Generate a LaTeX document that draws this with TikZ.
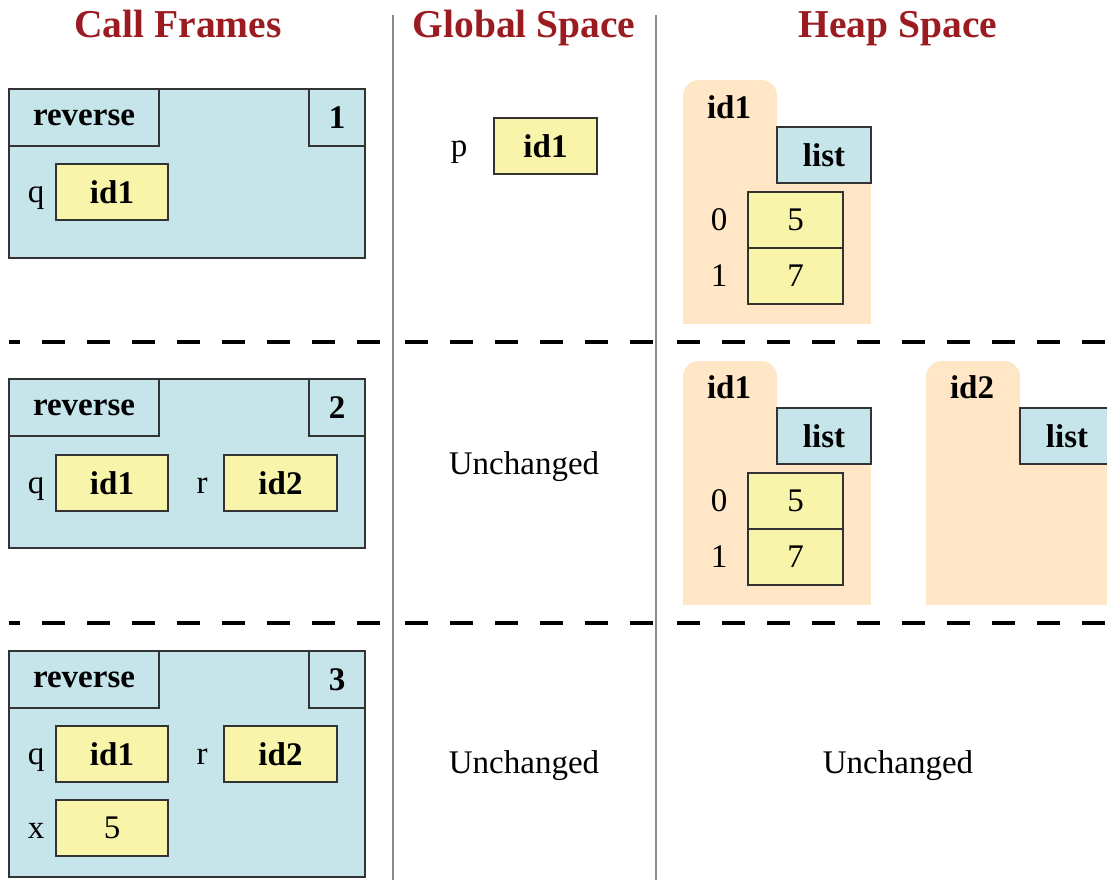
\documentclass[tikz,border=0pt]{standalone}
\usepackage{fontspec}
\setmainfont{Liberation Serif}
\definecolor{titlered}{HTML}{9B1C20}
\definecolor{frameblue}{HTML}{C5E5EA}
\definecolor{yel}{HTML}{F8F4AA}
\definecolor{peach}{HTML}{FEE6C6}
\definecolor{stroke}{HTML}{333333}
\definecolor{sepgray}{HTML}{8A8A8A}
\begin{document}
\begin{tikzpicture}[x=1pt,y=-1pt,
  every node/.style={font=\fontsize{33}{38}\selectfont, outer sep=0pt},
  frm/.style={draw=stroke, fill=frameblue, line width=1.8pt, inner sep=0pt, anchor=north west, minimum width=356},
  tabbox/.style={draw=stroke, fill=frameblue, line width=1.8pt, inner sep=0pt, minimum height=57, font=\fontsize{33}{38}\selectfont\bfseries},
  ybox/.style={draw=stroke, fill=yel, line width=1.8pt, inner sep=0pt, minimum width=112, minimum height=56},
  lbl/.style={inner sep=0pt, anchor=base},
  hname/.style={inner sep=0pt, anchor=base, font=\fontsize{33}{38}\selectfont\bfseries},
  ttl/.style={inner sep=0pt, anchor=base, font=\fontsize{39.5}{46}\selectfont\bfseries, text=titlered},
  sepline/.style={draw=sepgray, line width=2pt},
  dsh/.style={line width=3.5pt, dash pattern=on 23pt off 22pt},
  folder/.style={fill=peach},
]
\useasboundingbox (0,0) rectangle (1107,880);
\clip (0,0) rectangle (1107,880);

% titles
\node[ttl] (t1) at (178,38) {Call Frames};
\node[ttl] (t2) at (524,38) {Global Space};
\node[ttl] (t3) at (898,38) {Heap Space};

% separators
\coordinate (v1t) at (393,15); \coordinate (v1b) at (393,880);
\coordinate (v2t) at (656,15); \coordinate (v2b) at (656,880);
\draw[sepline] (v1t) -- (v1b);
\draw[sepline] (v2t) -- (v2b);

\foreach \yy/\nm in {342/a,623/b}{
  \coordinate (d\nm1) at (9,\yy); \coordinate (d\nm2) at (393,\yy);
  \coordinate (d\nm3) at (405,\yy); \coordinate (d\nm4) at (656,\yy);
  \coordinate (d\nm5) at (677,\yy); \coordinate (d\nm6) at (1107,\yy);
  \draw[dsh, dash phase=12pt] (d\nm1) -- (d\nm2);
  \draw[dsh] (d\nm3) -- (d\nm4);
  \draw[dsh] (d\nm5) -- (d\nm6);
}

% ---- Frame 1
\node[frm, minimum height=169] (f1) at (9,89) {};
\node[tabbox, minimum width=150, anchor=north west] (f1n) at (9,89) {reverse};
\node[tabbox, minimum width=56, anchor=north east] (f1c) at (365,89) {1};
\node[lbl] (f1ql) at (36,202) {q};
\node[ybox] (f1q) at (112,192) {\bfseries id1};

% ---- Frame 2
\node[frm, minimum height=169] (f2) at (9,379) {};
\node[tabbox, minimum width=150, anchor=north west] (f2n) at (9,379) {reverse};
\node[tabbox, minimum width=56, anchor=north east] (f2c) at (365,379) {2};
\node[lbl] (f2ql) at (36,493) {q};
\node[ybox] (f2q) at (112,483) {\bfseries id1};
\node[lbl] (f2rl) at (202,493) {r};
\node[ybox, minimum width=113] (f2r) at (280.5,483) {\bfseries id2};

% ---- Frame 3
\node[frm, minimum height=226] (f3) at (9,651) {};
\node[tabbox, minimum width=150, anchor=north west] (f3n) at (9,651) {reverse};
\node[tabbox, minimum width=56, anchor=north east] (f3c) at (365,651) {3};
\node[lbl] (f3ql) at (36,764) {q};
\node[ybox] (f3q) at (112,754) {\bfseries id1};
\node[lbl] (f3rl) at (202,764) {r};
\node[ybox, minimum width=113] (f3r) at (280.5,754) {\bfseries id2};
\node[lbl] (f3xl) at (36,838) {x};
\node[ybox] (f3x) at (112,828) {5};

% ---- Global space
\node[lbl] (gpl) at (459,156) {p};
\node[ybox, minimum width=103] (gp) at (545.5,146) {\bfseries id1};
\node[lbl] (gu2) at (524,474) {Unchanged};
\node[lbl] (gu3) at (524,773) {Unchanged};

% ---- Heap row 1
\fill[folder, rounded corners=16pt] (683,140) -- (683,80) -- (777,80) -- (777,140) -- cycle;
\fill[folder] (683,127) rectangle (871,324);
\node[hname] (h1id) at (729,118) {id1};
\node[tabbox, minimum width=94, minimum height=56, anchor=north west] (h1t) at (777,127) {list};
\node[ybox, minimum width=95, anchor=north west] (h1a0) at (748,192) {5};
\node[ybox, minimum width=95, anchor=north west] (h1a1) at (748,248) {7};
\node[lbl] (h1i0) at (719,230) {0};
\node[lbl] (h1i1) at (719,286) {1};

% ---- Heap row 2
\fill[folder, rounded corners=16pt] (683,421) -- (683,361) -- (777,361) -- (777,421) -- cycle;
\fill[folder] (683,408) rectangle (871,605);
\node[hname] (h2id) at (729,398) {id1};
\node[tabbox, minimum width=94, minimum height=56, anchor=north west] (h2t) at (777,408) {list};
\node[ybox, minimum width=95, anchor=north west] (h2a0) at (748,473) {5};
\node[ybox, minimum width=95, anchor=north west] (h2a1) at (748,529) {7};
\node[lbl] (h2i0) at (719,511) {0};
\node[lbl] (h2i1) at (719,567) {1};

\fill[folder, rounded corners=16pt] (926,421) -- (926,361) -- (1020,361) -- (1020,421) -- cycle;
\fill[folder] (926,408) rectangle (1120,605);
\node[hname] (h3id) at (972,398) {id2};
\node[tabbox, minimum width=94, minimum height=56, anchor=north west] (h3t) at (1020,408) {list};

% ---- Heap row 3
\node[lbl] (hu3) at (898,773) {Unchanged};
\end{tikzpicture}
\end{document}
